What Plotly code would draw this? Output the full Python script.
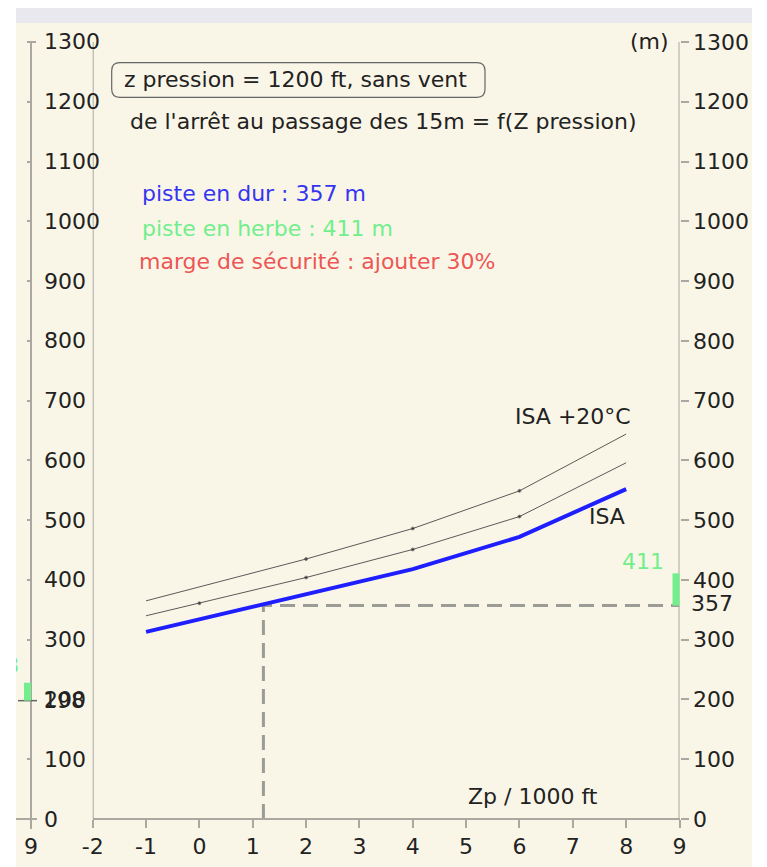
import plotly.graph_objects as go

# The page body has an 8px margin: figure is offset by OFF pixels.
OFF = 8
FW, FH = 767 - OFF, 867

# ---------------- data ----------------
zp = [-1, 0, 2, 4, 6, 8]                       # Zp / 1000 ft
dist_isa = [313, 334, 375, 418, 472, 552]      # ISA (piste en dur), m
dist_isa_mid = [340, 361, 404, 451, 506, 596]  # intermediate curve
dist_isa20 = [365, 388, 435, 486, 549, 644]    # ISA +20°C
dots_mid = [0, 2, 4, 6]
dots_isa20 = [2, 4, 6]
zp_read = 1.2
d_hard = 357
d_grass = 411
d_hard_left = 198
d_grass_left = 228
x_ticks = [-2, -1, 0, 1, 2, 3, 4, 5, 6, 7, 8, 9]
y_ticks = list(range(0, 1301, 100))
x_min, x_max = -2, 9
y_min, y_max = 0, 1300

# ---------------- helpers (window pixel -> paper) ----------------
def px(x):
    return (x - OFF) / FW

def py(y):
    return 1 - (y - OFF) / FH

FONT = "DejaVu Sans"
DARK = "#222222"
AXC = "#a9a9a2"
GREEN = "#72ee8c"
BLUE_TXT = "#3535f2"
RED_TXT = "#ec5656"

XL, XR = 92.7, 679.5      # pixel of x=-2 and x=9
YB, YT = 819, 42          # pixel of y=0 and y=1300
PAD = 16                  # extra pixels of y domain beyond the range ends
LEFT_AX = 31

vpp = (y_max - y_min) / (YB - YT)     # value per pixel
y_range = [y_min - PAD * vpp, y_max + PAD * vpp]

fig = go.Figure()

def dot_sizes(xs, dots):
    return [3 if x in dots else 0 for x in xs]

fig.add_trace(go.Scatter(x=zp, y=dist_isa20, mode="lines+markers",
                         line=dict(color="#5a5a5a", width=1),
                         marker=dict(size=dot_sizes(zp, dots_isa20), color="#111"),
                         hoverinfo="skip"))
fig.add_trace(go.Scatter(x=zp, y=dist_isa_mid, mode="lines+markers",
                         line=dict(color="#5a5a5a", width=1),
                         marker=dict(size=dot_sizes(zp, dots_mid), color="#111"),
                         hoverinfo="skip"))
# dashed reading lines
fig.add_trace(go.Scatter(x=[zp_read, zp_read, x_max], y=[y_min, d_hard, d_hard],
                         mode="lines", line=dict(color="#9c9c96", width=3, dash="15px,8px"),
                         hoverinfo="skip", cliponaxis=False))
fig.add_trace(go.Scatter(x=zp, y=dist_isa, mode="lines",
                         line=dict(color="#1e1eff", width=4), hoverinfo="skip"))
# dummy trace for right axis
fig.add_trace(go.Scatter(x=[None], y=[None], yaxis="y2", hoverinfo="skip"))
# partially clipped green label at far left
fig.add_trace(go.Scatter(x=[19], y=[d_grass_left + 26], mode="text",
                         text=[str(d_grass_left)], textposition="middle left",
                         textfont=dict(family=FONT, size=22, color=GREEN),
                         xaxis="x3", yaxis="y", cliponaxis=True, hoverinfo="skip"))

shapes = []
# page background
shapes.append(dict(type="rect", xref="paper", yref="paper", x0=px(16), x1=px(752),
                   y0=py(23), y1=py(6), fillcolor="#e9e8ee", line=dict(width=0), layer="below"))
shapes.append(dict(type="rect", xref="paper", yref="paper", x0=px(16), x1=px(752),
                   y0=0, y1=py(23), fillcolor="#f9f6e7", line=dict(width=0), layer="below"))
# vertical line at x = -2
shapes.append(dict(type="line", xref="x", yref="y", x0=x_min, x1=x_min, y0=y_min, y1=y_max,
                   line=dict(color=AXC, width=2)))
# left axis line (extends below 0) and top corner
shapes.append(dict(type="line", xref="paper", yref="paper", x0=px(LEFT_AX), x1=px(LEFT_AX),
                   y0=py(829), y1=py(YT), line=dict(color=AXC, width=2)))
shapes.append(dict(type="line", xref="paper", yref="y", x0=px(LEFT_AX), x1=px(LEFT_AX + 5),
                   y0=y_max, y1=y_max, line=dict(color=AXC, width=2)))
# right axis line
shapes.append(dict(type="line", xref="x", yref="y", x0=x_max, x1=x_max, y0=y_min, y1=y_max,
                   line=dict(color=AXC, width=2)))
# cross tick at 0 on the left axis
shapes.append(dict(type="line", xref="paper", yref="y", x0=px(16), x1=px(37),
                   y0=y_min, y1=y_min, line=dict(color=AXC, width=2)))
# short dark line at left value
shapes.append(dict(type="line", xref="paper", yref="y", x0=px(18), x1=px(37),
                   y0=d_hard_left, y1=d_hard_left, line=dict(color="#666", width=1.5)))
# green bars
shapes.append(dict(type="rect", xref="paper", yref="y", x0=px(XR - 7), x1=px(XR),
                   y0=d_hard, y1=d_grass, fillcolor=GREEN, line=dict(width=0)))
shapes.append(dict(type="rect", xref="paper", yref="y", x0=px(LEFT_AX - 7), x1=px(LEFT_AX),
                   y0=d_hard_left, y1=d_grass_left, fillcolor=GREEN, line=dict(width=0)))
# rounded box
bx0, bx1, by0, by1, r = 111.7, 485, 62.7, 97.3, 8
path = (f"M {px(bx0 + r)},{py(by0)} L {px(bx1 - r)},{py(by0)} "
        f"Q {px(bx1)},{py(by0)} {px(bx1)},{py(by0 + r)} L {px(bx1)},{py(by1 - r)} "
        f"Q {px(bx1)},{py(by1)} {px(bx1 - r)},{py(by1)} L {px(bx0 + r)},{py(by1)} "
        f"Q {px(bx0)},{py(by1)} {px(bx0)},{py(by1 - r)} L {px(bx0)},{py(by0 + r)} "
        f"Q {px(bx0)},{py(by0)} {px(bx0 + r)},{py(by0)} Z")
shapes.append(dict(type="path", xref="paper", yref="paper", path=path,
                   line=dict(color="#666", width=1.2)))

def ann(text, x, y, color=DARK, xanchor="left", size=22):
    return dict(text=text, x=px(x), y=py(y), xref="paper", yref="paper",
                xanchor=xanchor, yanchor="middle", showarrow=False,
                font=dict(family=FONT, size=size, color=color))

annotations = [
    ann("z pression = 1200 ft, sans vent", 121.5, 80),
    ann("de l'arrêt au passage des 15m = f(Z pression)", 128, 121.7),
    ann(f"piste en dur : {d_hard} m", 139.5, 193, BLUE_TXT),
    ann(f"piste en herbe : {d_grass} m", 139.5, 228, GREEN),
    ann("marge de sécurité : ajouter 30%", 136.5, 261.7, RED_TXT),
    ann("ISA +20°C", 513, 416.7),
    ann("ISA", 587, 516.7),
    ann(str(d_grass), 666, 561.7, GREEN, xanchor="right"),
    ann(str(d_hard), 689, 603),
    ann("(m)", 671, 42, xanchor="right"),
    ann("Zp / 1000 ft", 466, 796),
    ann(str(x_max), LEFT_AX, 846, xanchor="center"),
    ann(str(d_hard_left), 41, 700),
]
# left axis tick labels (to the right of the left axis line)
for v in y_ticks:
    annotations.append(dict(text=str(v), x=px(41.5), y=v, xref="paper", yref="y",
                            xanchor="left", yanchor="middle", showarrow=False,
                            font=dict(family=FONT, size=22, color=DARK)))

tickfont = dict(family=FONT, size=22, color=DARK)

fig.update_layout(
    width=FW, height=FH, autosize=False,
    margin=dict(l=0, r=0, t=0, b=0, pad=0, autoexpand=False),
    paper_bgcolor="white", plot_bgcolor="rgba(0,0,0,0)",
    showlegend=False,
    shapes=shapes, annotations=annotations,
    xaxis=dict(domain=[px(XL), px(XR)], range=[x_min, x_max], tickvals=x_ticks,
               ticktext=[str(v) for v in x_ticks],
               showline=True, linecolor=AXC, linewidth=2, ticks="outside", ticklen=8,
               tickwidth=2, tickcolor=AXC, tickfont=tickfont, showgrid=False,
               zeroline=False, anchor="free", position=py(YB), automargin=False,
               fixedrange=True),
    yaxis=dict(domain=[py(YB + PAD), py(YT - PAD)], range=y_range, tickvals=y_ticks,
               anchor="free", position=px(LEFT_AX), side="left",
               showline=False, ticks="outside", ticklen=4, showticklabels=False,
               tickwidth=2, tickcolor=AXC,
               showgrid=False, zeroline=False, automargin=False,
               fixedrange=True),
    yaxis2=dict(overlaying="y", side="right", anchor="x", range=y_range,
                tickvals=y_ticks, showline=False,
                ticks="outside", ticklen=8, tickwidth=2, tickcolor=AXC,
                tickfont=tickfont, showgrid=False, zeroline=False, automargin=False,
                fixedrange=True),
    xaxis3=dict(domain=[px(16), px(752)], range=[16, 752], visible=False,
                anchor="y", automargin=False, fixedrange=True),
)

fig.write_html("out.html")
